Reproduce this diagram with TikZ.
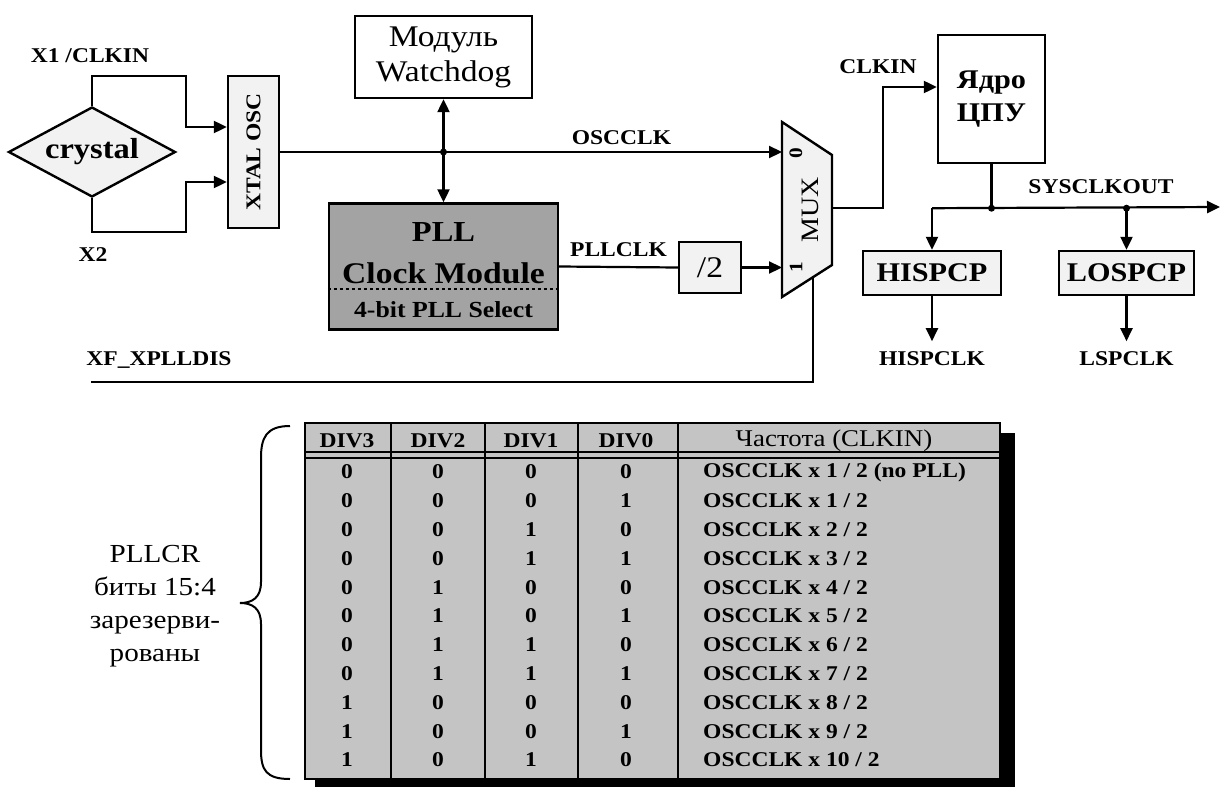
\documentclass[tikz,border=0pt]{standalone}
\usepackage{fontspec}
\setmainfont{Liberation Serif}[FakeStretch=1.12]
\usetikzlibrary{arrows.meta,shapes.geometric}
\definecolor{lightfill}{gray}{0.95}
\definecolor{pllfill}{gray}{0.64}
\definecolor{tabfill}{gray}{0.77}
\newcommand{\fsz}[1]{\fontsize{#1}{#1}\selectfont}

\begin{document}
\begin{tikzpicture}[x=1pt,y=-1pt,
    >={Triangle[length=13pt,width=12pt]},
    wire/.style={line width=2.2pt},
    blk/.style={draw,line width=2.4pt,inner sep=0pt,align=center},
    lbl/.style={font=\fsz{21}\bfseries,inner sep=0pt},
    cell/.style={font=\fsz{21}\bfseries,inner sep=0pt},
    jdot/.style={circle,fill,inner sep=0pt,minimum size=7pt}]
    \useasboundingbox (0,0) rectangle (1221,787);
    \clip (0,0) rectangle (1221,787);

    %% crystal and oscillator
    \node[blk,diamond,shape aspect=1.86,fill=lightfill,minimum width=167pt,minimum height=90pt,font=\fsz{29}\bfseries] (crystal) at (92,152) {crystal};
    \node[blk,fill=lightfill,minimum width=51pt,minimum height=152pt,font=\fsz{21}\bfseries] (xtal) at (253.5,152) {\rotatebox{90}{XTAL OSC}};
    \coordinate (bendA) at (186,76);
    \coordinate (bendB) at (186,232);
    \draw[wire,->] (crystal.north) |- (bendA) |- ([yshift=25pt]xtal.west);
    \draw[wire,->] (crystal.south) |- (bendB) |- ([yshift=-30pt]xtal.west);
    \node[lbl] (x1) at (90,56) {X1 /CLKIN};
    \node[lbl] (x2) at (93,255) {X2};

    %% watchdog and PLL
    \node[blk,minimum width=177pt,minimum height=82pt,font=\fontsize{30}{35}\selectfont] (wd) at (443.5,57) {Модуль\\Watchdog};
    \node[blk,fill=pllfill,minimum width=229pt,minimum height=126pt] (pll) at (443.5,266.5) {};
    \node[font=\fsz{29}\bfseries] (pllA) at (443.5,232) {PLL};
    \node[font=\fsz{30}\bfseries] (pllB) at (443.5,273) {Clock Module};
    \node[font=\fsz{23}\bfseries] (pllC) at (443.5,310) {4-bit PLL Select};
    \draw[dashed,line width=1.2pt] ([yshift=-22.5pt]pll.west) -- ([yshift=-22.5pt]pll.east);
    \draw[wire,<->] (wd.south) -- (pll.north);
    \node[jdot] (j1) at (wd.south |- xtal.east) {};

    %% divider and mux
    \node[blk,fill=lightfill,minimum width=62pt,minimum height=51pt,font=\fsz{30}] (div) at (710,267.5) {/2};
    \draw[line width=2.4pt,fill=lightfill] (782,122) -- (832,155) -- (832,265) -- (782,297) -- cycle;
    \node[font=\fsz{25}] (mux) at (810,210) {\rotatebox{90}{MUX}};
    \node[font=\fsz{19}\bfseries] (m0) at (796,153) {\rotatebox{90}{0}};
    \node[font=\fsz{19}\bfseries] (m1) at (796,267) {\rotatebox{90}{1}};
    \coordinate (mux0) at (782,152);
    \coordinate (mux1) at (782,267.5);
    \coordinate (muxout) at (832,208);
    \coordinate (muxsel) at (813,277);
    \draw[wire,->] (xtal.east) -- (mux0)
        node[lbl,pos=0.68,above=6pt] (osc) {OSCCLK};
    \draw[wire] (pll.east) -- (div.west)
        node[lbl,midway,above=9pt] (pllclk) {PLLCLK};
    \draw[wire,->] (div.east) -- (mux1);
    \coordinate (xf) at (91,382);
    \draw[wire] (xf) -| (muxsel);
    \node[lbl] (xfl) at (159,360) {XF\_XPLLDIS};

    %% cpu core
    \node[blk,minimum width=107pt,minimum height=128pt,font=\fontsize{27}{33}\selectfont\bfseries] (cpu) at (991.5,99) {Ядро\\ЦПУ};
    \draw[wire,->] (muxout) -- ++(51,0) |- ([yshift=12pt]cpu.west);
    \node[lbl] (clkin) at (878,67) {CLKIN};

    %% prescalers
    \node[blk,fill=lightfill,minimum width=138pt,minimum height=44pt,font=\fsz{27}\bfseries] (hi) at (932,273) {HISPCP};
    \node[blk,fill=lightfill,minimum width=135pt,minimum height=44pt,font=\fsz{27}\bfseries] (lo) at (1126.5,273) {LOSPCP};
    \draw[wire] (cpu.south) -- ++(0,44) coordinate (sj);
    \coordinate (sysout) at (1220,207);
    \draw[wire,->] (hi.north |- sj) -- (sysout);
    \draw[wire,->] (hi.north |- sj) -- (hi.north);
    \draw[wire,->] (lo.north |- sj) -- (lo.north);
    \node[jdot] (j2) at (sj) {};
    \node[jdot] (j3) at (lo.north |- sj) {};
    \node[lbl] (sys) at (1101,187) {SYSCLKOUT};
    \draw[wire,->] (hi.south) -- ++(0,45) node[lbl,below=9pt] (hsp) {HISPCLK};
    \draw[wire,->] (lo.south) -- ++(0,45) node[lbl,below=9pt] (lsp) {LSPCLK};

    %% PLLCR table
    \fill[black] (315,433) rectangle (1015,800);
    \draw[line width=2.4pt,fill=tabfill] (305,423) rectangle (1000,779);
    \draw[line width=1.5pt] (305,452) -- (1000,452) (305,458) -- (1000,458);
    \foreach \cx in {391,485,578,678}
        \draw[line width=2.4pt] (\cx,423) -- (\cx,779);
    \node[cell] (h3) at (347,441) {DIV3};
    \node[cell] (h2) at (438,441) {DIV2};
    \node[cell] (h1) at (531,441) {DIV1};
    \node[cell] (h0) at (626,441) {DIV0};
    \node[font=\fsz{24},inner sep=0pt] (hf) at (834,441) {Частота (CLKIN)};
    \foreach \i in {0,...,10} {
        \pgfmathsetmacro{\ry}{472+28.8*\i}
        \pgfmathtruncatemacro{\bA}{mod(floor(\i/8),2)}
        \pgfmathtruncatemacro{\bB}{mod(floor(\i/4),2)}
        \pgfmathtruncatemacro{\bC}{mod(floor(\i/2),2)}
        \pgfmathtruncatemacro{\bD}{mod(\i,2)}
        \node[cell] (d3r\i) at (347,\ry) {\bA};
        \node[cell] (d2r\i) at (438,\ry) {\bB};
        \node[cell] (d1r\i) at (531,\ry) {\bC};
        \node[cell] (d0r\i) at (626,\ry) {\bD};
        \node[cell,anchor=west] (fr\i) at (703,\ry) {OSCCLK x \ifnum\i=0 1 / 2 (no PLL)\else\i{} / 2\fi};
    }

    %% brace
    \draw[line width=2pt] (290,426) .. controls (266,426) and (261,438) .. (261,458)
        -- (261,582) .. controls (261,598) and (252,603) .. (240,603)
        .. controls (252,603) and (261,608) .. (261,624)
        -- (261,750) .. controls (261,770) and (266,779) .. (290,779);
    \node[font=\fontsize{26}{33}\selectfont,align=center] (regs) at (155,606) {PLLCR\\биты 15:4\\зарезерви-\\рованы};
\end{tikzpicture}
\end{document}
